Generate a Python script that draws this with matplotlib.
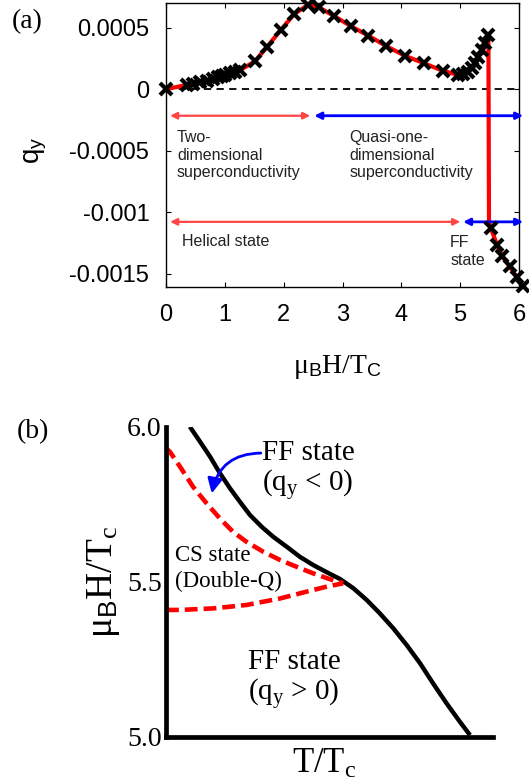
import matplotlib
matplotlib.use("Agg")
import matplotlib.pyplot as plt

plt.rcParams['font.family'] = ['Liberation Sans', 'DejaVu Sans']
plt.rcParams['mathtext.fontset'] = 'custom'
plt.rcParams['mathtext.rm'] = 'Liberation Serif'
plt.rcParams['mathtext.sf'] = 'Liberation Sans'
plt.rcParams['mathtext.it'] = 'Liberation Serif:italic'
plt.rcParams['mathtext.bf'] = 'Liberation Serif:bold'

# ---- panel (a) data: q_y vs mu_B H / T_c ----
h_pos = [0.0, 0.35, 0.46, 0.58, 0.69, 0.80, 0.89, 0.95, 1.00, 1.09, 1.17, 1.26,
         1.51, 1.72, 1.95, 2.18, 2.41, 2.60, 2.86, 3.14, 3.44, 3.74, 4.06, 4.39,
         4.70, 4.97, 5.05, 5.14, 5.20, 5.25, 5.31, 5.37, 5.42, 5.48]
q_pos = [0.0, 0.0000325, 0.0000407, 0.0000542, 0.0000678, 0.0000813, 0.0000949,
         0.000106, 0.000114, 0.000127, 0.000141, 0.000154, 0.000225, 0.000344,
         0.000480, 0.000610, 0.000683, 0.000664, 0.000593, 0.000512, 0.000434,
         0.000350, 0.000271, 0.000209, 0.000149, 0.000114, 0.000122, 0.000141,
         0.000168, 0.000209, 0.000263, 0.000317, 0.000371, 0.000439]
h_jump, q_jump = 5.49, -0.00108
h_neg = [5.52, 5.63, 5.71, 5.84, 5.96, 6.06]
q_neg = [-0.00113, -0.00127, -0.00136, -0.00144, -0.00153, -0.00160]

yticks_a = [0.0005, 0, -0.0005, -0.001, -0.0015]
yticklabels_a = ["0.0005", "0", "-0.0005", "-0.001", "-0.0015"]
xticks_a = [0, 1, 2, 3, 4, 5, 6]

# region arrows (start, end) and their heights
dim2_range = (0.07, 2.45)
quasi1_range = (2.52, 6.07)
helical_range = (0.07, 5.00)
ff_range = (5.05, 6.07)
arrow_y_top = -0.000217
arrow_y_bot = -0.00108

# ---- panel (b) data: phase diagram ----
t_hc2 = [0.073, 0.104, 0.135, 0.165, 0.196, 0.226, 0.257, 0.293, 0.328, 0.369,
         0.410, 0.450, 0.491, 0.532, 0.573, 0.614, 0.654, 0.695, 0.736, 0.777,
         0.817, 0.858, 0.899, 0.930]
h_hc2 = [6.000, 5.952, 5.903, 5.850, 5.801, 5.758, 5.715, 5.677, 5.645, 5.613,
         5.580, 5.554, 5.531, 5.509, 5.479, 5.441, 5.398, 5.350, 5.296, 5.237,
         5.172, 5.108, 5.048, 5.005]
t_cs_up = [0.0, 0.012, 0.043, 0.083, 0.124, 0.165, 0.205, 0.246, 0.297, 0.349,
           0.400, 0.450, 0.502, 0.542]
h_cs_up = [5.931, 5.919, 5.871, 5.806, 5.753, 5.704, 5.661, 5.629, 5.597, 5.570,
           5.548, 5.527, 5.508, 5.495]
t_cs_lo = [0.0, 0.043, 0.145, 0.246, 0.349, 0.430, 0.491, 0.542]
h_cs_lo = [5.409, 5.409, 5.414, 5.425, 5.446, 5.468, 5.484, 5.495]

fig = plt.figure(figsize=(5.29, 7.8), dpi=100)

# -------- (a) --------
ax = fig.add_axes([0.3138, 0.6317, 0.6673, 0.3645])
ax.axhline(0, color='black', lw=1.3, ls=(0, (4, 3)), zorder=1)
ax.plot(h_pos + [h_jump] + h_neg, q_pos + [q_jump] + q_neg, color='red', lw=3,
        zorder=2, clip_on=False)
ax.plot(h_pos + h_neg, q_pos + q_neg, ls='none', marker='x', ms=9, mew=3,
        color='black', zorder=5, clip_on=False)

def region_arrow(rng, y, color, lw):
    ax.annotate('', xy=(rng[1], y), xytext=(rng[0], y), annotation_clip=False,
                arrowprops=dict(arrowstyle='<|-|>', color=color, lw=lw,
                                mutation_scale=10, shrinkA=0, shrinkB=0),
                zorder=4)

region_arrow(dim2_range, arrow_y_top, '#ff4545', 1.6)
region_arrow(quasi1_range, arrow_y_top, '#0000ff', 2.0)
region_arrow(helical_range, arrow_y_bot, '#ff4545', 1.6)
region_arrow(ff_range, arrow_y_bot, '#0000ff', 2.0)

txt = dict(fontsize=11.5, color='#222222', va='center', ha='left')
ax.text(0.187, -0.000537, "Two-\ndimensional\nsuperconductivity", **txt)
ax.text(3.12, -0.000537, "Quasi-one-\ndimensional\nsuperconductivity", **txt)
ax.text(0.267, -0.001241, "Helical state", **txt)
ax.text(4.83, -0.00132, "FF\nstate", **txt)

ax.set_xlim(0, 6)
ax.set_ylim(-0.001612, 0.0007)
ax.set_xticks(xticks_a)
ax.set_xticklabels([str(v) for v in xticks_a])
ax.set_yticks(yticks_a)
ax.set_yticklabels(yticklabels_a)
ax.tick_params(direction='in', length=3.5, width=0.8, top=True, right=True,
               labelsize=17, pad=12)
for s in ax.spines.values():
    s.set_linewidth(1.0)

ax.set_xlabel(r'$\mathrm{\mu}_\mathsf{B}\mathrm{H/T}_\mathsf{C}$', fontsize=20)
ax.xaxis.label.set_va('center')
ax.xaxis.set_label_coords(0.487, -0.279)
ax.set_ylabel(r'$\mathsf{q}_\mathsf{y}$', fontsize=20)
ax.yaxis.label.set_va('center')
ax.yaxis.set_label_coords(-0.37, 0.483)

fig.text(27 / 529, 1 - 22 / 780, "(a)", family='Liberation Serif', fontsize=20,
         ha='center', va='center')

# -------- (b) --------
bx = fig.add_axes([0.3138, 0.0555, 0.618, 0.3974])
bx.plot(t_hc2, h_hc2, color='black', lw=3.2, solid_capstyle='butt',
        solid_joinstyle='round')
bx.plot(t_cs_up, h_cs_up, color='red', lw=3.3, ls=(0, (2.8, 1.3)))
bx.plot(t_cs_lo, h_cs_lo, color='red', lw=3.3, ls=(0, (2.8, 1.3)))
bx.annotate('', xy=(0.14, 5.785), xytext=(0.29, 5.915),
            arrowprops=dict(arrowstyle='-|>', color='#0000ff', lw=2,
                            connectionstyle='arc3,rad=0.4', mutation_scale=22,
                            shrinkA=0, shrinkB=0))

serif = dict(family='Liberation Serif', ha='left', va='center')
bx.text(0.293, 5.915, "FF state", fontsize=21, **serif)
bx.text(0.293, 5.812, r"(q$_\mathrm{y}$ < 0)", fontsize=21, **serif)
bx.text(0.028, 5.586, "CS state", fontsize=16.5, **serif)
bx.text(0.028, 5.50, "(Double-Q)", fontsize=16.5, **serif)
bx.text(0.252, 5.242, "FF state", fontsize=21, **serif)
bx.text(0.252, 5.135, r"(q$_\mathrm{y}$ > 0)", fontsize=21, **serif)

bx.set_xlim(0, 1)
bx.set_ylim(5.0, 6.0)
bx.set_xticks([])
bx.set_yticks([5.0, 5.5, 6.0])
bx.set_yticklabels(["5.0", "5.5", "6.0"], family='Liberation Serif')
bx.tick_params(axis='y', length=0, labelsize=20, pad=3)
bx.spines['top'].set_visible(False)
bx.spines['right'].set_visible(False)
bx.spines['left'].set_linewidth(3.4)
bx.spines['bottom'].set_linewidth(3.4)
bx.spines['left'].set_capstyle('projecting')
bx.spines['bottom'].set_capstyle('projecting')

bx.set_xlabel(r'$\mathrm{T/T_c}$', fontsize=25)
bx.xaxis.label.set_va('center')
bx.xaxis.set_label_coords(0.483, -0.085)
bx.set_ylabel(r'$\mathrm{\mu}_\mathsf{B}\mathrm{H/T_c}$', fontsize=27)
bx.yaxis.label.set_va('center')
bx.yaxis.set_label_coords(-0.19, 0.50)

fig.text(33 / 529, 1 - 432 / 780, "(b)", family='Liberation Serif', fontsize=20,
         ha='center', va='center')

fig.savefig("out.png", dpi=100)
